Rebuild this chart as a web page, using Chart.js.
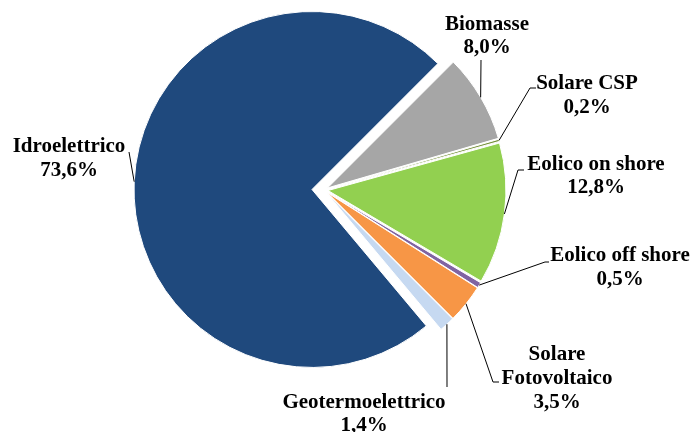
<!DOCTYPE html>
<html><head><meta charset="utf-8">
<script src="https://cdn.jsdelivr.net/npm/chart.js@4.4.0/dist/chart.umd.min.js"></script>
<style>html,body{margin:0;padding:0;background:#fff;}#wrap{width:693px;height:432px;}</style>
</head><body><div id="wrap"><canvas id="c" width="693" height="432"></canvas></div>
<script>
// ---- data ----
const categories = ['Biomasse', 'Solare CSP', 'Eolico on shore', 'Eolico off shore', 'Solare Fotovoltaico', 'Geotermoelettrico', 'Idroelettrico'];
const shares = [8.0, 0.2, 12.8, 0.5, 3.5, 1.4, 73.6];
const shareLabels = ['8,0%', '0,2%', '12,8%', '0,5%', '3,5%', '1,4%', '73,6%'];
const nameLines = [['Biomasse'], ['Solare CSP'], ['Eolico on shore'], ['Eolico off shore'], ['Solare', 'Fotovoltaico'], ['Geotermoelettrico'], ['Idroelettrico']];

// ---- style / layout ----
const colors = ['#A6A6A6', '#77933C', '#92D050', '#8064A2', '#F79646', '#C6D9F1', '#1F497D'];
const explode = [4, 4, 4, 4, 4, 4, 12];   // slice explosion distance in px
const PIE_RADIUS = 178;
// label text centre x, first baseline y, line height; leader elbow points
const labelLayout = [
  {x: 487, y: 30, lh: 23, pts: [[481, 60]]},
  {x: 587, y: 89, lh: 24, pts: [[530, 88], [536, 88]]},
  {x: 596, y: 170, lh: 23, pts: [[518, 170], [524, 170]]},
  {x: 620, y: 261, lh: 24, pts: [[545, 262], [549, 262]]},
  {x: 557, y: 360, lh: 24, pts: [[493, 382], [499, 382]]},
  {x: 364, y: 408, lh: 23, pts: [[447, 387]]},
  {x: 69, y: 152, lh: 24, pts: [[129, 152]]}
];
const FONT = 'bold 21px "Liberation Serif", "Times New Roman", serif';

// move each arc element outward along its mid angle (exploded pie)
const explodePlugin = {
  id: 'explode',
  beforeDatasetsDraw(chart) {
    const a = chart.chartArea;
    const cx = (a.left + a.right) / 2, cy = (a.top + a.bottom) / 2;
    chart.getDatasetMeta(0).data.forEach((arc, i) => {
      const mid = (arc.startAngle + arc.endAngle) / 2;
      arc.x = cx + Math.cos(mid) * explode[i];
      arc.y = cy + Math.sin(mid) * explode[i];
    });
  }
};

const labelPlugin = {
  id: 'pieLabels',
  afterDatasetsDraw(chart) {
    const ctx = chart.ctx;
    const meta = chart.getDatasetMeta(0);
    ctx.save();
    ctx.font = FONT;
    ctx.fillStyle = '#000';
    ctx.strokeStyle = '#000';
    ctx.lineWidth = 1;
    ctx.textAlign = 'center';
    ctx.textBaseline = 'alphabetic';
    meta.data.forEach((arc, i) => {
      const mid = (arc.startAngle + arc.endAngle) / 2;
      const sx = arc.x + Math.cos(mid) * arc.outerRadius, sy = arc.y + Math.sin(mid) * arc.outerRadius;
      const L = labelLayout[i];
      ctx.beginPath();
      ctx.moveTo(sx, sy);
      L.pts.forEach(q => ctx.lineTo(q[0], q[1]));
      ctx.stroke();
      const lines = nameLines[i].concat([shareLabels[i]]);
      lines.forEach((t, k) => ctx.fillText(t, L.x, L.y + k * L.lh));
    });
    ctx.restore();
  }
};

new Chart(document.getElementById('c'), {
  type: 'pie',
  data: {
    labels: categories,
    datasets: [{
      data: shares,
      backgroundColor: colors,
      borderColor: '#FFFFFF',
      borderWidth: 1
    }]
  },
  options: {
    responsive: false,
    animation: false,
    rotation: 45,
    radius: PIE_RADIUS,
    layout: {padding: {left: 0, right: 45, top: 0, bottom: 52}},
    plugins: {legend: {display: false}, tooltip: {enabled: false}}
  },
  plugins: [explodePlugin, labelPlugin]
});
</script>
</body></html>
